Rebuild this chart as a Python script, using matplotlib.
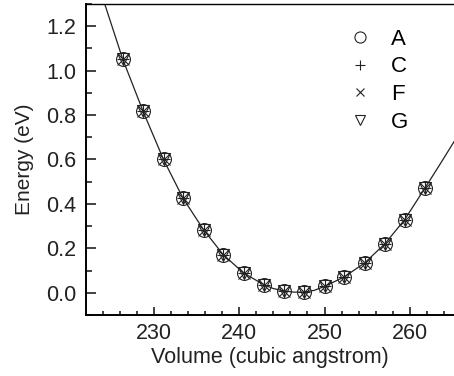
import numpy as np
import matplotlib
matplotlib.use("Agg")
import matplotlib.pyplot as plt

plt.rcParams['font.family'] = ['Liberation Sans', 'DejaVu Sans']

# data (all four sets sit on the same points)
volume = [226.3, 228.7, 231.1, 233.4, 235.8, 238.1, 240.5, 242.9,
          245.2, 247.6, 250.0, 252.3, 254.7, 257.1, 259.4, 261.8]
energy_A = [1.053, 0.817, 0.600, 0.425, 0.284, 0.172, 0.089, 0.036,
            0.009, 0.003, 0.029, 0.071, 0.134, 0.221, 0.329, 0.472]
energy_C = list(energy_A)
energy_F = list(energy_A)
energy_G = list(energy_A)

# fitted curve
fit_v = [224.2, 226.3, 228.7, 231.1, 233.4, 235.8, 238.1, 240.5, 242.9,
         244.0, 245.2, 246.4, 247.6, 248.8, 250.0, 252.3, 254.7, 257.1,
         259.4, 261.8, 263.5, 265.2]
fit_e = [1.300, 1.053, 0.817, 0.600, 0.425, 0.284, 0.172, 0.089, 0.036,
         0.019, 0.009, 0.003, 0.003, 0.011, 0.029, 0.071, 0.134, 0.221,
         0.329, 0.472, 0.575, 0.68]

labels = ['A', 'C', 'F', 'G']
markers = ['o', '+', 'x', 'v']
sizes = [10, 8.5, 8, 8.5]

fig = plt.figure(figsize=(4.54, 3.76), dpi=100)
ax = fig.add_axes([0.1894, 0.1622, 0.8106, 0.8272])

ax.plot(fit_v, fit_e, color='#222222', lw=0.9, zorder=1)
for e, m, ms, lab in zip([energy_A, energy_C, energy_F, energy_G], markers, sizes, labels):
    ax.plot(volume, e, linestyle='none', marker=m, markersize=ms,
            markerfacecolor='none', markeredgecolor='#222222',
            markeredgewidth=0.8, label=lab, zorder=2)

ax.set_xlim(222.0, 265.2)
ax.set_ylim(-0.1, 1.3)
ax.set_xticks([230, 240, 250, 260])
ax.set_xticks(np.arange(224, 266, 2), minor=True)
ax.set_yticks([0.0, 0.2, 0.4, 0.6, 0.8, 1.0, 1.2])
ax.set_yticks(np.arange(-0.1, 1.31, 0.1), minor=True)
ax.yaxis.set_major_formatter(matplotlib.ticker.FormatStrFormatter('%.1f'))

ax.spines['right'].set_visible(False)
for s in ['left', 'bottom']:
    ax.spines[s].set_linewidth(1.4)
ax.spines['top'].set_linewidth(1.0)

ax.tick_params(axis='both', which='both', direction='in', width=1.2,
               colors='#222222', labelsize=15.5, top=False, right=False)
ax.tick_params(axis='x', which='major', length=6, pad=6)
ax.tick_params(axis='x', which='minor', length=3)
ax.tick_params(axis='y', which='major', length=7, pad=7)
ax.tick_params(axis='y', which='minor', length=4.5)

ax.set_xlabel('Volume (cubic angstrom)', fontsize=15.5, labelpad=2, color='#222222')
ax.set_ylabel('Energy (eV)', fontsize=15, labelpad=9, color='#222222')

ax.legend(loc='upper left', bbox_to_anchor=(0.66, 0.985), frameon=False,
          fontsize=16, markerscale=0.8, numpoints=1, handlelength=1.0,
          handletextpad=0.9, labelspacing=0.3)

fig.savefig('out.png', dpi=100)
